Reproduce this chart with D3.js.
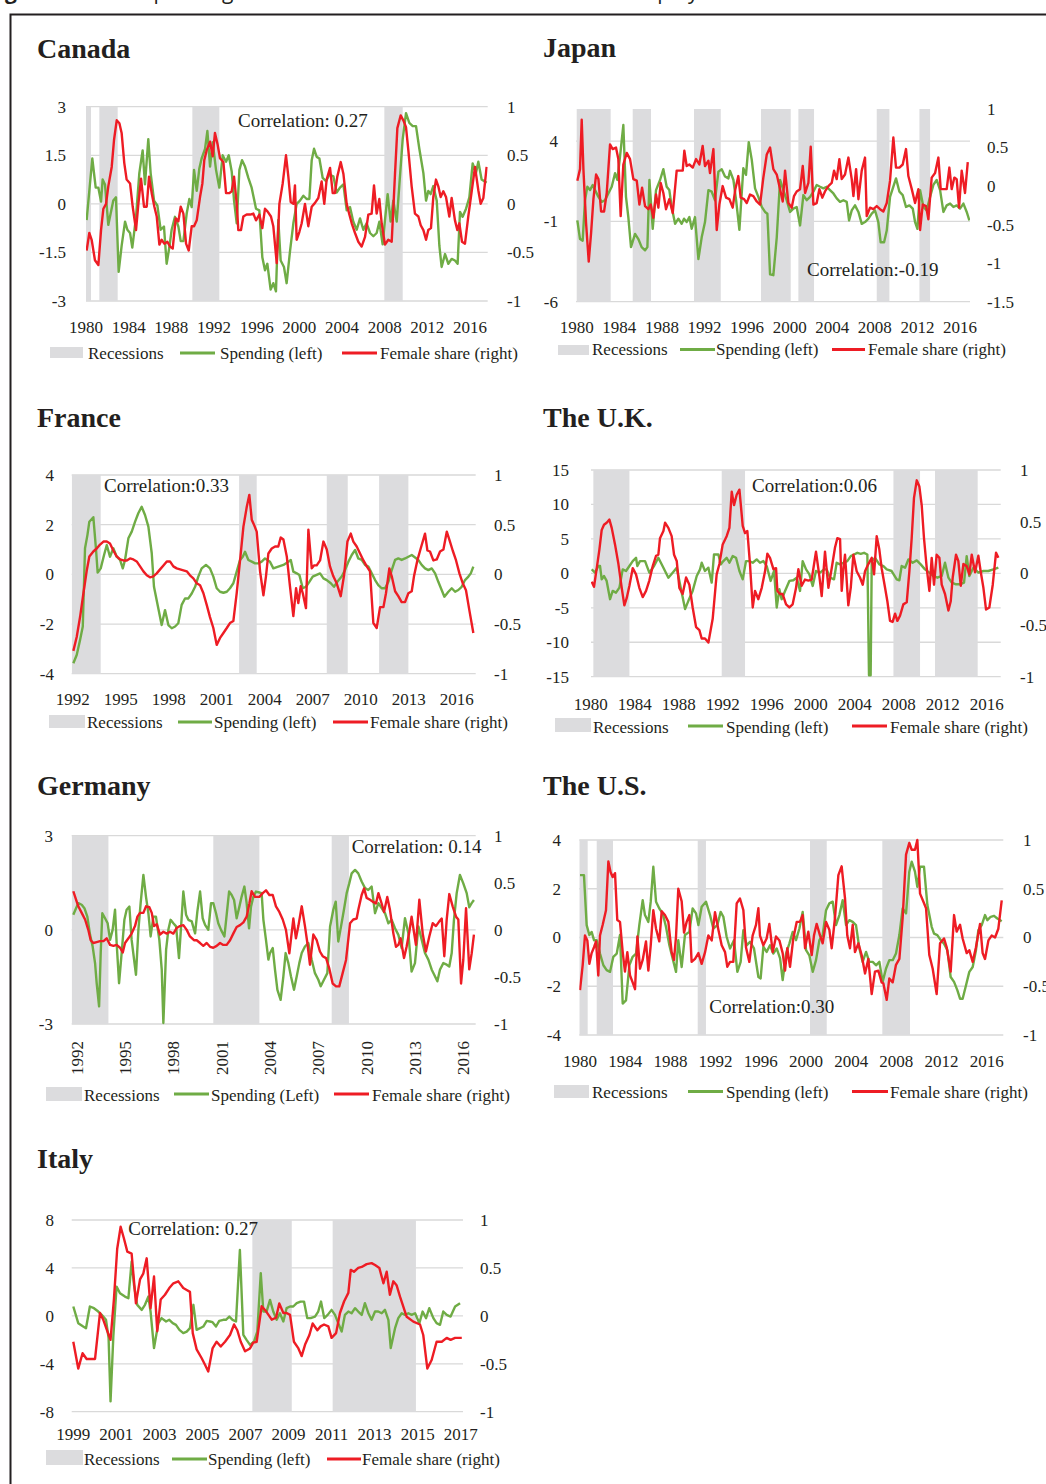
<!DOCTYPE html>
<html>
<head>
<meta charset="utf-8">
<script src="https://cdn.jsdelivr.net/npm/d3@7"></script>
<style>
  body { margin: 0; background: #fff; }
  svg { display: block; }
</style>
</head>
<body>
<svg id="chart" width="1046" height="1484"></svg>
<script>
// ---- tick labels ----
const years1980 = [1980, 1984, 1988, 1992, 1996, 2000, 2004, 2008, 2012, 2016];
const years1992 = [1992, 1995, 1998, 2001, 2004, 2007, 2010, 2013, 2016];
const years1999 = [1999, 2001, 2003, 2005, 2007, 2009, 2011, 2013, 2015, 2017];
const shareTicks = [-1, -0.5, 0, 0.5, 1];
const japanShareTicks = [-1.5, -1, -0.5, 0, 0.5, 1];
const canadaTicks = [-3, -1.5, 0, 1.5, 3];
const japanTicks = [-6, -1, 4];
const franceTicks = [-4, -2, 0, 2, 4];
const ukTicks = [-15, -10, -5, 0, 5, 10, 15];
const germanyTicks = [-3, 0, 3];
const usTicks = [-4, -2, 0, 2, 4];
const italyTicks = [-8, -4, 0, 4, 8];

const countries = ['Canada', 'Japan', 'France', 'The U.K.', 'Germany', 'The U.S.', 'Italy'];
const correlations = ['Correlation: 0.27', 'Correlation:-0.19', 'Correlation:0.33', 'Correlation:0.06',
  'Correlation: 0.14', 'Correlation:0.30', 'Correlation: 0.27'];
const legendLabels = ['Recessions', 'Spending (left)', 'Female share (right)'];

// ---- recessions [start, end] ----
const canadaRecessions = [[1980, 1980.47], [1981.25, 1982.97], [1989.97, 1992.5], [2007.97, 2009.69]];
const japanRecessions = [[1980, 1983.19], [1985.26, 1986.98], [1991.02, 1993.53], [1997.31, 2000.1], [2000.82, 2002.29], [2008.18, 2009.37], [2012.19, 2013.19]];
const franceRecessions = [[1991.94, 1993.75], [2002.4, 2003.5], [2007.88, 2009.19], [2011.15, 2012.98]];
const ukRecessions = [[1980.24, 1983.52], [1991.91, 1994.03], [2007.52, 2009.94], [2011.3, 2015.18]];
const germanyRecessions = [[1991.69, 1993.97], [2000.48, 2003.34], [2007.83, 2008.9]];
const usRecessions = [[1979.94, 1980.68], [1981.48, 1982.92], [1990.42, 1991.15], [2000.36, 2001.84], [2006.76, 2009.21]];
const italyRecessions = [[2007.32, 2009.15], [2011.05, 2014.92]];

// ---- series: [year, value] ----
const canadaSpending = [[1980.06,-0.5],[1980.59,1.4],[1980.91,0.5],[1981.16,0.5],[1981.41,0.07],[1981.56,0.75],[1981.78,0.6],[1982.09,-0.65],[1982.56,0.1],[1982.81,0.2],[1983.06,-2.1],[1983.34,-1.3],[1983.66,-0.55],[1983.88,-0.8],[1984.13,-0.9],[1984.34,-1.35],[1984.69,-0.4],[1985.0,0.95],[1985.31,1.65],[1985.53,0.6],[1985.84,2.0],[1986.06,0.95],[1986.38,0.1],[1986.69,-0.05],[1987.0,-0.8],[1987.31,-0.7],[1987.56,-1.85],[1987.81,-1.35],[1988.03,-0.8],[1988.34,-0.4],[1988.66,-0.7],[1988.88,-1.15],[1989.13,-1.15],[1989.44,-0.3],[1989.69,0.15],[1989.91,-0.1],[1990.13,1.05],[1990.38,0.4],[1990.63,1.1],[1990.84,1.4],[1991.16,1.7],[1991.38,2.25],[1991.63,1.15],[1991.88,1.9],[1992.19,1.05],[1992.5,0.5],[1992.81,1.5],[1993.13,1.3],[1993.38,1.5],[1993.66,1.0],[1993.88,0.1],[1994.13,-0.6],[1994.38,1.05],[1994.63,1.35],[1994.91,1.15],[1995.22,0.8],[1995.53,0.5],[1995.94,-0.15],[1996.25,-0.2],[1996.53,-1.65],[1996.78,-2.05],[1997.0,-1.85],[1997.31,-2.65],[1997.56,-2.45],[1997.81,-2.7],[1998.03,-0.5],[1998.25,-1.75],[1998.56,-1.95],[1998.81,-2.45],[1999.13,-1.45],[1999.44,-0.6],[1999.75,0.0],[2000.06,0.1],[2000.38,0.25],[2000.69,0.15],[2000.94,0.15],[2001.16,1.35],[2001.38,1.7],[2001.63,1.45],[2001.88,1.4],[2002.19,0.8],[2002.5,0.7],[2002.81,0.9],[2003.19,0.85],[2003.5,0.35],[2003.81,0.5],[2004.13,0.6],[2004.44,-0.2],[2004.75,-0.1],[2005.06,-0.55],[2005.38,-0.8],[2005.69,-0.45],[2006.0,-0.8],[2006.31,-0.6],[2006.63,-0.9],[2006.94,-1.0],[2007.25,-0.9],[2007.5,-0.55],[2007.81,-1.25],[2008.03,-0.5],[2008.28,0.3],[2008.56,-0.55],[2008.81,0.1],[2009.13,-0.55],[2009.38,0.6],[2009.69,2.0],[2010.0,2.8],[2010.31,2.5],[2010.63,2.4],[2010.94,2.4],[2011.25,1.7],[2011.63,0.95],[2011.88,0.1],[2012.09,0.4],[2012.31,0.3],[2012.56,0.55],[2012.88,0.1],[2013.13,-1.3],[2013.34,-1.95],[2013.66,-1.55],[2013.97,-1.85],[2014.28,-1.7],[2014.59,-1.75],[2014.84,-1.85],[2015.06,-0.25],[2015.31,-0.4],[2015.63,-0.15],[2015.94,0.2],[2016.25,1.25],[2016.56,0.95],[2016.78,1.3],[2017.09,0.75],[2017.56,0.65]];
const canadaShare = [[1980.06,-0.48],[1980.31,-0.3],[1980.53,-0.37],[1980.84,-0.58],[1981.16,-0.63],[1981.41,-0.27],[1981.63,-0.05],[1981.88,0.0],[1982.09,0.18],[1982.41,0.38],[1982.63,0.66],[1982.88,0.86],[1983.13,0.83],[1983.34,0.73],[1983.59,0.42],[1983.81,0.25],[1984.13,0.21],[1984.38,-0.03],[1984.69,-0.27],[1984.91,0.0],[1985.16,0.26],[1985.44,-0.03],[1985.69,-0.03],[1985.91,0.28],[1986.16,0.11],[1986.41,-0.03],[1986.63,-0.13],[1986.88,-0.42],[1987.09,-0.37],[1987.34,-0.41],[1987.63,-0.39],[1987.88,-0.44],[1988.13,-0.46],[1988.41,-0.15],[1988.66,-0.18],[1988.88,-0.03],[1989.13,-0.1],[1989.38,-0.41],[1989.63,-0.48],[1989.91,-0.23],[1990.13,-0.23],[1990.38,-0.17],[1990.69,0.07],[1990.91,0.21],[1991.09,0.45],[1991.31,0.55],[1991.63,0.64],[1991.88,0.49],[1992.09,0.73],[1992.34,0.61],[1992.56,0.47],[1992.88,0.43],[1993.13,0.11],[1993.44,0.11],[1993.66,0.13],[1993.88,0.28],[1994.13,0.0],[1994.28,-0.27],[1994.53,-0.27],[1994.75,-0.13],[1995.06,-0.11],[1995.38,-0.11],[1995.69,-0.1],[1995.94,-0.17],[1996.25,-0.11],[1996.53,-0.25],[1996.78,-0.05],[1997.03,-0.08],[1997.34,-0.13],[1997.56,-0.23],[1997.88,-0.61],[1998.13,0.0],[1998.44,0.21],[1998.75,0.5],[1998.97,0.28],[1999.19,0.02],[1999.44,0.0],[1999.59,0.19],[1999.75,-0.37],[2000.0,-0.29],[2000.22,-0.2],[2000.53,0.0],[2000.84,-0.23],[2001.16,-0.03],[2001.47,0.01],[2001.78,0.06],[2002.09,0.23],[2002.34,0.0],[2002.56,0.25],[2002.88,0.37],[2003.13,0.11],[2003.34,0.11],[2003.56,0.28],[2003.88,0.43],[2004.13,0.31],[2004.44,0.0],[2004.69,-0.11],[2004.91,-0.2],[2005.22,-0.3],[2005.53,-0.39],[2005.84,-0.44],[2006.16,-0.34],[2006.47,-0.11],[2006.78,-0.1],[2007.0,0.19],[2007.25,-0.1],[2007.5,0.05],[2007.72,-0.2],[2008.03,-0.42],[2008.34,-0.37],[2008.66,-0.39],[2008.97,0.31],[2009.19,0.78],[2009.5,0.91],[2009.75,0.86],[2010.0,0.79],[2010.22,0.55],[2010.53,0.18],[2010.84,-0.1],[2011.16,-0.13],[2011.38,-0.22],[2011.63,-0.27],[2011.88,-0.37],[2012.09,-0.27],[2012.34,-0.25],[2012.56,0.07],[2012.81,0.25],[2013.03,0.18],[2013.25,0.07],[2013.5,0.13],[2013.75,0.07],[2014.06,-0.13],[2014.28,0.06],[2014.59,-0.17],[2014.81,-0.27],[2015.0,-0.2],[2015.25,-0.39],[2015.53,-0.41],[2015.84,-0.13],[2016.16,0.13],[2016.47,0.38],[2016.78,0.14],[2017.0,0.0],[2017.25,0.06],[2017.56,0.38]];

const japanSpending = [[1980.06,-0.94],[1980.31,-2.1],[1980.56,-2.2],[1980.78,0.32],[1981.0,1.16],[1981.25,0.95],[1981.5,1.27],[1981.72,0.95],[1982.04,0.53],[1982.35,0.22],[1982.66,0.32],[1982.97,0.74],[1983.29,1.16],[1983.6,2.0],[1983.82,1.58],[1984.07,3.05],[1984.38,5.0],[1984.63,0.53],[1984.85,-0.73],[1985.1,-2.6],[1985.48,-1.78],[1985.79,-2.1],[1986.1,-2.6],[1986.42,-2.8],[1986.64,-2.6],[1986.83,1.58],[1987.14,-1.46],[1987.45,0.95],[1987.83,1.58],[1988.14,2.25],[1988.45,1.16],[1988.7,0.95],[1988.92,-0.1],[1989.24,-1.15],[1989.55,-0.83],[1989.86,-1.15],[1990.08,-0.83],[1990.33,-1.04],[1990.58,-0.73],[1990.8,-1.46],[1991.11,-0.73],[1991.43,-3.35],[1991.74,-1.99],[1992.05,-1.04],[1992.37,0.95],[1992.68,0.85],[1992.99,0.32],[1993.31,2.1],[1993.62,2.25],[1993.93,1.8],[1994.25,1.68],[1994.4,2.15],[1994.72,1.58],[1994.97,0.32],[1995.28,-1.53],[1995.65,2.32],[1995.9,1.9],[1996.16,3.94],[1996.44,2.85],[1996.75,1.06],[1997.06,0.53],[1997.38,-0.1],[1997.69,-0.41],[1997.91,-0.52],[1998.16,-4.3],[1998.47,-4.35],[1998.79,-1.99],[1999.1,1.58],[1999.41,0.95],[1999.72,0.32],[2000.04,-0.41],[2000.35,-0.2],[2000.66,-0.1],[2000.98,-1.25],[2001.29,0.64],[2001.6,0.32],[2001.92,0.53],[2002.23,0.85],[2002.54,1.27],[2002.86,1.16],[2003.17,1.06],[2003.48,1.16],[2003.79,0.95],[2004.11,0.74],[2004.42,0.43],[2004.73,0.22],[2005.05,0.32],[2005.36,0.22],[2005.58,-0.94],[2005.83,-0.31],[2006.14,0.0],[2006.46,-0.41],[2006.77,-1.15],[2007.08,-1.04],[2007.4,-0.83],[2007.71,-0.52],[2008.02,-0.31],[2008.33,-1.04],[2008.55,-2.3],[2008.87,-2.3],[2009.12,-1.57],[2009.43,0.53],[2009.74,1.16],[2009.99,1.68],[2010.31,0.85],[2010.62,0.64],[2010.93,-0.1],[2011.25,0.0],[2011.56,-0.2],[2011.78,-1.04],[2012.0,-1.46],[2012.25,0.95],[2012.56,-0.1],[2012.87,-0.31],[2013.19,0.53],[2013.5,1.27],[2013.81,1.58],[2014.13,0.95],[2014.44,-0.41],[2014.75,0.0],[2015.07,0.11],[2015.38,-0.1],[2015.69,0.0],[2016.0,-0.2],[2016.32,0.11],[2016.63,-0.41],[2016.88,-0.94]];
const japanShare = [[1980.06,0.07],[1980.31,0.22],[1980.47,0.86],[1980.63,0.22],[1980.88,-0.48],[1981.13,-0.98],[1981.35,-0.61],[1981.57,-0.17],[1981.82,0.15],[1982.04,0.09],[1982.29,-0.33],[1982.57,-0.33],[1982.82,-0.09],[1983.13,0.54],[1983.38,0.48],[1983.69,0.5],[1983.91,0.35],[1984.13,-0.39],[1984.38,0.28],[1984.7,0.43],[1985.01,0.35],[1985.32,0.09],[1985.64,0.07],[1985.89,-0.24],[1986.14,-0.02],[1986.42,-0.26],[1986.73,-0.3],[1986.95,-0.24],[1987.2,-0.41],[1987.45,-0.11],[1987.67,-0.28],[1987.89,0.04],[1988.14,-0.09],[1988.39,-0.3],[1988.7,-0.17],[1989.02,-0.35],[1989.39,0.2],[1989.71,0.2],[1989.96,0.2],[1990.11,0.46],[1990.33,0.26],[1990.58,0.28],[1990.9,0.24],[1991.21,0.35],[1991.52,0.28],[1991.83,0.52],[1992.05,0.26],[1992.37,0.33],[1992.52,0.17],[1992.84,0.48],[1993.15,-0.57],[1993.4,-0.24],[1993.71,0.0],[1994.03,-0.15],[1994.34,-0.17],[1994.65,-0.28],[1994.9,-0.04],[1995.18,0.13],[1995.4,-0.15],[1995.72,-0.17],[1995.97,-0.22],[1996.28,-0.11],[1996.59,-0.13],[1996.91,-0.2],[1997.22,-0.24],[1997.53,0.11],[1997.85,0.41],[1998.16,0.5],[1998.47,0.22],[1998.79,0.15],[1999.1,-0.04],[1999.35,-0.2],[1999.57,0.2],[1999.88,-0.22],[2000.19,-0.28],[2000.41,-0.13],[2000.66,-0.07],[2000.98,-0.04],[2001.23,0.26],[2001.45,-0.09],[2001.76,0.04],[2001.98,0.51],[2002.23,-0.24],[2002.54,-0.22],[2002.79,-0.04],[2003.07,-0.15],[2003.32,-0.07],[2003.64,0.0],[2003.95,0.04],[2004.17,0.2],[2004.42,0.09],[2004.67,0.35],[2004.89,0.09],[2005.2,0.15],[2005.52,0.37],[2005.83,0.09],[2005.99,-0.13],[2006.24,0.22],[2006.46,-0.17],[2006.77,0.2],[2007.08,0.37],[2007.24,-0.39],[2007.55,-0.28],[2007.86,-0.3],[2008.18,-0.26],[2008.49,-0.3],[2008.8,-0.33],[2009.12,-0.22],[2009.43,0.07],[2009.74,0.63],[2009.99,0.24],[2010.31,0.24],[2010.62,0.28],[2010.93,0.48],[2011.15,0.13],[2011.47,-0.04],[2011.78,-0.22],[2012.09,-0.04],[2012.25,-0.57],[2012.5,-0.24],[2012.81,-0.26],[2013.03,-0.43],[2013.34,0.11],[2013.66,0.17],[2013.97,0.37],[2014.19,-0.04],[2014.44,-0.04],[2014.75,-0.04],[2015.0,0.24],[2015.22,-0.04],[2015.47,0.11],[2015.69,0.09],[2015.91,-0.28],[2016.16,0.2],[2016.47,-0.09],[2016.73,0.31]];

const franceSpending = [[1992.04,-3.58],[1992.25,-3.25],[1992.46,-2.64],[1992.63,-2.1],[1992.77,1.05],[1992.92,1.58],[1993.04,2.12],[1993.29,2.3],[1993.46,0.98],[1993.56,0.07],[1993.75,0.24],[1993.96,0.78],[1994.13,1.18],[1994.33,0.71],[1994.54,1.05],[1994.75,0.71],[1994.96,0.58],[1995.13,0.24],[1995.27,0.58],[1995.48,1.45],[1995.69,1.72],[1995.9,2.12],[1996.1,2.46],[1996.31,2.72],[1996.52,2.39],[1996.73,1.92],[1996.94,0.85],[1997.08,-0.5],[1997.29,-1.17],[1997.56,-2.04],[1997.77,-1.44],[1997.98,-2.04],[1998.19,-2.17],[1998.4,-2.1],[1998.6,-1.97],[1998.81,-1.23],[1999.02,-0.97],[1999.23,-0.97],[1999.44,-0.77],[1999.65,-0.5],[1999.85,-0.09],[2000.06,0.24],[2000.33,0.38],[2000.58,0.24],[2000.79,-0.09],[2001.0,-0.56],[2001.21,-0.7],[2001.42,-0.74],[2001.63,-0.7],[2001.83,-0.56],[2002.04,-0.36],[2002.25,0.11],[2002.46,0.58],[2002.63,0.71],[2002.77,0.91],[2002.98,0.58],[2003.19,0.51],[2003.4,0.44],[2003.6,0.44],[2003.81,0.51],[2004.02,0.64],[2004.17,0.58],[2004.33,0.51],[2004.54,0.24],[2004.85,0.31],[2005.17,0.38],[2005.48,0.51],[2005.63,0.58],[2005.79,0.11],[2006.0,0.04],[2006.17,-0.03],[2006.38,-0.56],[2006.58,-0.5],[2006.79,-0.3],[2007.0,-0.09],[2007.21,-0.03],[2007.46,0.04],[2007.67,-0.16],[2007.88,-0.23],[2008.13,-0.36],[2008.33,-0.5],[2008.54,-0.3],[2008.81,-0.09],[2009.02,0.17],[2009.23,0.51],[2009.44,0.78],[2009.65,0.98],[2009.85,0.64],[2010.06,0.58],[2010.27,0.38],[2010.48,0.31],[2010.69,0.04],[2010.9,-0.23],[2011.1,-0.43],[2011.31,-0.56],[2011.52,-0.56],[2011.73,-0.3],[2011.94,0.17],[2012.15,0.58],[2012.35,0.64],[2012.56,0.58],[2012.77,0.64],[2012.98,0.71],[2013.19,0.78],[2013.4,0.68],[2013.6,0.58],[2013.81,0.38],[2014.02,0.24],[2014.23,0.17],[2014.44,0.24],[2014.65,0.04],[2014.85,-0.3],[2015.06,-0.63],[2015.23,-0.9],[2015.48,-0.7],[2015.69,-0.56],[2015.9,-0.7],[2016.1,-0.63],[2016.31,-0.5],[2016.52,-0.23],[2016.73,-0.09],[2016.88,0.04],[2017.04,0.31]];
const franceShare = [[1992.04,-0.77],[1992.25,-0.63],[1992.46,-0.43],[1992.67,-0.19],[1992.88,0.04],[1993.04,0.18],[1993.29,0.23],[1993.5,0.26],[1993.71,0.3],[1993.92,0.33],[1994.13,0.33],[1994.33,0.31],[1994.54,0.24],[1994.75,0.18],[1994.96,0.15],[1995.17,0.14],[1995.38,0.14],[1995.58,0.16],[1995.79,0.15],[1996.0,0.13],[1996.21,0.08],[1996.42,0.03],[1996.63,-0.01],[1996.83,-0.03],[1997.04,-0.02],[1997.25,0.01],[1997.46,0.05],[1997.67,0.09],[1997.88,0.13],[1998.08,0.13],[1998.29,0.08],[1998.5,0.06],[1998.71,0.05],[1998.92,0.04],[1999.13,0.03],[1999.33,-0.01],[1999.54,-0.04],[1999.75,-0.09],[1999.96,-0.11],[2000.17,-0.19],[2000.38,-0.31],[2000.58,-0.43],[2000.79,-0.54],[2001.0,-0.71],[2001.21,-0.64],[2001.42,-0.59],[2001.63,-0.54],[2001.83,-0.49],[2002.04,-0.47],[2002.25,-0.19],[2002.46,0.14],[2002.67,0.48],[2002.88,0.68],[2003.04,0.8],[2003.19,0.55],[2003.33,0.5],[2003.5,0.43],[2003.71,0.03],[2003.92,-0.21],[2004.08,-0.02],[2004.23,0.21],[2004.44,0.26],[2004.65,0.28],[2004.85,0.28],[2005.0,0.37],[2005.17,0.35],[2005.38,0.18],[2005.58,-0.12],[2005.79,-0.42],[2005.96,-0.14],[2006.1,-0.29],[2006.25,-0.12],[2006.38,-0.19],[2006.58,-0.34],[2006.73,0.45],[2006.94,0.06],[2007.08,0.09],[2007.25,0.09],[2007.46,0.14],[2007.67,0.33],[2007.88,0.25],[2008.08,0.08],[2008.29,-0.02],[2008.5,-0.09],[2008.75,-0.22],[2008.96,-0.01],[2009.17,0.33],[2009.38,0.41],[2009.54,0.33],[2009.75,0.28],[2009.96,0.21],[2010.17,0.14],[2010.38,0.08],[2010.58,0.03],[2010.79,-0.49],[2011.0,-0.54],[2011.21,-0.33],[2011.42,-0.33],[2011.58,-0.19],[2011.79,0.06],[2011.94,-0.02],[2012.15,-0.17],[2012.35,-0.22],[2012.56,-0.28],[2012.77,-0.28],[2012.98,-0.19],[2013.19,-0.17],[2013.33,-0.02],[2013.54,0.14],[2013.75,0.26],[2014.02,0.41],[2014.17,0.24],[2014.33,0.23],[2014.54,0.14],[2014.75,0.15],[2014.96,0.23],[2015.17,0.25],[2015.38,0.43],[2015.54,0.35],[2015.75,0.24],[2015.96,0.14],[2016.17,0.01],[2016.38,-0.09],[2016.58,-0.16],[2016.79,-0.36],[2017.04,-0.59]];

const ukSpending = [[1980.09,0.58],[1980.39,0.1],[1980.7,1.06],[1980.85,1.06],[1981.0,-0.87],[1981.21,-0.38],[1981.45,-1.1],[1981.76,-3.75],[1982.0,-2.55],[1982.3,-2.8],[1982.61,-2.07],[1982.91,0.58],[1983.21,0.34],[1983.52,1.06],[1983.82,1.78],[1984.12,2.26],[1984.24,1.06],[1984.48,1.78],[1984.94,1.78],[1985.33,0.1],[1985.76,1.06],[1986.15,2.26],[1986.61,0.82],[1987.06,-0.63],[1987.45,0.1],[1987.82,0.82],[1988.12,-1.59],[1988.58,-5.19],[1988.88,-3.99],[1989.27,-2.55],[1989.64,-0.38],[1989.94,0.58],[1990.09,1.54],[1990.39,0.34],[1990.7,0.82],[1991.0,-1.35],[1991.21,2.74],[1991.61,2.74],[1991.82,1.3],[1992.06,1.78],[1992.36,2.26],[1992.61,1.54],[1992.91,2.5],[1993.21,2.26],[1993.52,0.34],[1993.82,-0.87],[1994.12,1.78],[1994.42,1.78],[1994.73,1.54],[1995.09,2.02],[1995.39,1.54],[1995.7,1.78],[1996.0,1.06],[1996.36,-1.1],[1996.67,0.34],[1996.91,-4.95],[1997.15,-2.31],[1997.36,-3.75],[1997.67,-2.55],[1998.06,-1.1],[1998.42,-1.01],[1998.73,-0.63],[1999.03,-2.55],[1999.27,1.78],[1999.58,0.58],[1999.88,-0.14],[2000.18,-1.83],[2000.48,0.34],[2000.85,0.1],[2001.21,0.58],[2001.45,0.58],[2001.76,-0.63],[2002.12,-0.87],[2002.36,1.54],[2002.67,1.3],[2002.97,1.54],[2003.33,1.78],[2003.64,2.5],[2003.94,2.74],[2004.24,2.98],[2004.55,2.84],[2004.85,2.98],[2005.15,2.74],[2005.3,-14.8],[2005.45,-14.8],[2005.55,1.78],[2005.85,2.26],[2006.24,1.3],[2006.61,1.06],[2006.91,0.58],[2007.36,0.34],[2007.82,-0.87],[2008.06,-1.01],[2008.27,1.06],[2008.58,0.82],[2008.88,2.02],[2009.27,1.54],[2009.64,1.88],[2010.0,1.3],[2010.39,0.58],[2010.79,0.1],[2011.15,-0.38],[2011.52,-0.63],[2011.91,-0.38],[2012.21,1.54],[2012.52,-0.63],[2012.82,-1.35],[2013.21,-1.59],[2013.58,-1.59],[2013.94,-1.35],[2014.18,2.5],[2014.42,-0.38],[2014.79,0.82],[2015.24,0.1],[2015.7,0.34],[2016.15,0.34],[2016.61,0.58],[2017.06,0.82]];
const ukShare = [[1980.09,-0.08],[1980.3,-0.13],[1980.55,0.05],[1980.79,0.23],[1981.0,0.42],[1981.21,0.47],[1981.45,0.49],[1981.7,0.52],[1981.91,0.44],[1982.21,0.28],[1982.52,0.09],[1982.82,-0.14],[1983.06,-0.31],[1983.27,-0.24],[1983.52,-0.12],[1983.82,0.05],[1984.12,-0.01],[1984.42,-0.14],[1984.73,-0.23],[1985.03,-0.17],[1985.33,-0.07],[1985.64,0.07],[1985.94,0.17],[1986.15,0.18],[1986.3,0.34],[1986.61,0.41],[1986.76,0.49],[1987.06,0.44],[1987.36,0.36],[1987.58,0.18],[1987.82,0.12],[1988.06,-0.14],[1988.36,-0.2],[1988.67,-0.04],[1988.97,-0.11],[1989.27,-0.33],[1989.58,-0.52],[1989.88,-0.55],[1990.09,-0.63],[1990.39,-0.63],[1990.7,-0.67],[1991.09,-0.44],[1991.45,-0.01],[1991.7,0.09],[1992.0,0.28],[1992.36,0.36],[1992.61,0.44],[1992.82,0.79],[1993.03,0.66],[1993.27,0.76],[1993.52,0.81],[1993.82,0.46],[1994.03,0.39],[1994.24,0.41],[1994.48,0.09],[1994.73,-0.33],[1994.94,-0.17],[1995.24,-0.25],[1995.55,-0.14],[1995.85,0.02],[1996.06,0.19],[1996.3,0.15],[1996.61,0.04],[1996.85,0.05],[1996.97,-0.17],[1997.21,-0.2],[1997.45,-0.2],[1997.76,-0.3],[1998.06,-0.33],[1998.36,-0.3],[1998.67,-0.14],[1998.88,0.04],[1999.18,-0.12],[1999.48,-0.06],[1999.79,-0.07],[2000.09,-0.06],[2000.48,0.21],[2000.79,-0.03],[2001.0,-0.22],[2001.3,0.21],[2001.61,-0.14],[2001.91,0.05],[2002.21,0.25],[2002.42,0.34],[2002.67,0.33],[2002.82,-0.17],[2002.97,0.04],[2003.12,0.18],[2003.42,-0.31],[2003.64,-0.14],[2003.88,0.18],[2004.18,0.02],[2004.48,-0.04],[2004.73,-0.11],[2004.94,0.02],[2005.24,0.09],[2005.55,0.15],[2005.76,-0.01],[2006.0,0.36],[2006.24,0.23],[2006.45,0.05],[2006.76,-0.14],[2006.97,-0.27],[2007.21,-0.46],[2007.45,-0.47],[2007.67,-0.39],[2007.88,-0.46],[2008.12,-0.41],[2008.42,-0.3],[2008.73,-0.28],[2008.97,0.02],[2009.18,0.34],[2009.39,0.73],[2009.64,0.9],[2009.88,0.84],[2010.09,0.66],[2010.3,0.34],[2010.55,0.05],[2010.79,-0.17],[2011.0,0.15],[2011.21,-0.11],[2011.45,0.18],[2011.7,0.15],[2011.91,-0.11],[2012.21,-0.2],[2012.52,-0.36],[2012.73,-0.27],[2012.91,-0.04],[2013.21,0.18],[2013.42,0.12],[2013.64,-0.12],[2013.88,0.09],[2014.18,0.07],[2014.42,-0.01],[2014.64,0.18],[2014.94,0.01],[2015.24,0.17],[2015.45,0.02],[2015.7,-0.14],[2015.94,-0.35],[2016.24,-0.33],[2016.55,-0.11],[2016.85,0.2],[2017.06,0.15]];

const germanySpending = [[1991.79,0.48],[1991.96,0.69],[1992.1,0.85],[1992.31,0.8],[1992.48,0.69],[1992.66,0.42],[1992.83,-0.16],[1992.99,-0.53],[1993.14,-1.06],[1993.24,-1.7],[1993.39,-2.44],[1993.49,-0.74],[1993.59,0.53],[1993.76,0.37],[1993.92,0.21],[1994.07,-0.32],[1994.23,0.0],[1994.38,0.64],[1994.48,-0.42],[1994.63,-1.7],[1994.79,-0.74],[1994.96,0.32],[1995.1,0.64],[1995.27,0.74],[1995.41,-0.32],[1995.68,-1.43],[1995.83,0.0],[1995.97,0.85],[1996.14,1.75],[1996.3,1.06],[1996.45,0.53],[1996.59,-0.21],[1996.76,0.42],[1996.92,0.42],[1997.13,-0.32],[1997.28,-1.27],[1997.38,-2.97],[1997.55,-0.64],[1997.69,0.0],[1997.83,0.32],[1998.0,0.21],[1998.17,0.11],[1998.35,-0.9],[1998.46,-0.05],[1998.62,1.22],[1998.79,0.48],[1998.93,0.32],[1999.14,0.27],[1999.35,-0.11],[1999.49,0.58],[1999.66,1.22],[1999.82,0.37],[1999.97,0.16],[2000.17,0.0],[2000.34,0.85],[2000.48,0.85],[2000.65,0.53],[2000.79,0.21],[2000.96,0.0],[2001.17,-0.21],[2001.31,0.48],[2001.46,1.22],[2001.62,1.11],[2001.77,0.95],[2001.93,0.37],[2002.1,0.74],[2002.24,1.06],[2002.41,1.38],[2002.55,0.85],[2002.7,0.05],[2002.82,0.74],[2002.97,1.06],[2003.13,1.22],[2003.34,1.19],[2003.48,1.17],[2003.59,0.32],[2003.75,-0.32],[2003.9,-0.95],[2004.0,-0.74],[2004.17,-0.58],[2004.31,-1.27],[2004.46,-1.91],[2004.66,-2.23],[2004.83,-1.48],[2004.97,-0.74],[2005.14,-1.06],[2005.3,-1.48],[2005.49,-1.91],[2005.66,-1.48],[2005.82,-1.06],[2005.97,-0.74],[2006.17,-0.53],[2006.38,-0.42],[2006.59,-0.95],[2006.79,-1.38],[2007.0,-1.59],[2007.15,-1.8],[2007.35,-1.59],[2007.56,-1.38],[2007.73,0.11],[2007.93,0.64],[2008.08,0.9],[2008.24,-0.37],[2008.41,0.11],[2008.59,0.64],[2008.76,1.17],[2008.92,1.48],[2009.07,1.8],[2009.28,1.91],[2009.48,1.8],[2009.69,1.54],[2009.9,1.33],[2010.1,1.27],[2010.31,1.38],[2010.52,0.53],[2010.73,0.85],[2010.93,0.69],[2011.14,0.53],[2011.35,0.21],[2011.55,0.32],[2011.76,0.05],[2011.97,-0.16],[2012.17,-0.58],[2012.38,0.37],[2012.59,-0.11],[2012.79,-1.33],[2013.0,-1.06],[2013.21,0.11],[2013.42,-0.32],[2013.62,-0.74],[2013.83,-0.95],[2014.04,-1.27],[2014.24,-1.48],[2014.39,-1.64],[2014.55,-1.27],[2014.76,-1.06],[2014.97,-1.11],[2015.13,-1.17],[2015.28,-0.74],[2015.42,0.32],[2015.59,1.17],[2015.79,1.75],[2016.0,1.48],[2016.21,1.17],[2016.37,0.72],[2016.52,0.85],[2016.66,0.95]];
const germanyShare = [[1991.79,0.41],[1991.96,0.32],[1992.1,0.25],[1992.31,0.18],[1992.52,0.11],[1992.72,0.0],[1992.87,-0.11],[1993.03,-0.14],[1993.24,-0.13],[1993.45,-0.12],[1993.66,-0.12],[1993.86,-0.09],[1994.07,-0.16],[1994.28,-0.17],[1994.48,-0.16],[1994.69,-0.19],[1994.86,-0.24],[1995.0,-0.14],[1995.21,-0.09],[1995.41,-0.04],[1995.62,0.04],[1995.77,0.14],[1995.93,0.18],[1996.14,0.18],[1996.3,0.25],[1996.51,0.24],[1996.66,0.18],[1996.8,0.04],[1996.97,0.06],[1997.17,-0.05],[1997.38,-0.02],[1997.59,-0.04],[1997.79,-0.02],[1998.0,-0.04],[1998.21,0.02],[1998.41,0.04],[1998.62,0.05],[1998.83,0.0],[1999.03,-0.07],[1999.28,-0.11],[1999.45,-0.11],[1999.66,-0.14],[1999.86,-0.17],[2000.07,-0.14],[2000.28,-0.18],[2000.48,-0.19],[2000.69,-0.17],[2000.9,-0.14],[2001.1,-0.16],[2001.31,-0.16],[2001.52,-0.11],[2001.72,-0.04],[2001.93,0.03],[2002.14,0.05],[2002.35,0.08],[2002.55,0.14],[2002.72,0.28],[2002.86,0.41],[2003.07,0.35],[2003.34,0.35],[2003.55,0.39],[2003.75,0.42],[2003.96,0.37],[2004.17,0.37],[2004.37,0.25],[2004.58,0.19],[2004.79,0.11],[2004.99,0.0],[2005.2,-0.25],[2005.45,0.12],[2005.61,-0.09],[2005.76,0.04],[2005.97,0.25],[2006.17,0.04],[2006.32,-0.14],[2006.48,-0.37],[2006.69,-0.05],[2006.9,-0.11],[2007.1,-0.23],[2007.27,-0.28],[2007.48,-0.3],[2007.68,-0.41],[2007.89,-0.57],[2008.1,-0.6],[2008.3,-0.6],[2008.51,-0.46],[2008.72,-0.32],[2008.97,0.07],[2009.17,0.11],[2009.38,0.12],[2009.48,0.21],[2009.69,0.37],[2009.84,0.44],[2010.0,0.34],[2010.21,0.32],[2010.37,0.3],[2010.58,0.28],[2010.73,0.39],[2010.93,0.28],[2011.08,0.19],[2011.28,0.35],[2011.45,0.21],[2011.66,-0.04],[2011.82,-0.18],[2011.97,-0.16],[2012.11,-0.09],[2012.32,-0.3],[2012.48,-0.18],[2012.65,-0.02],[2012.79,0.14],[2013.06,-0.16],[2013.27,0.32],[2013.48,-0.04],[2013.68,-0.23],[2013.89,-0.07],[2014.1,0.07],[2014.3,0.04],[2014.51,0.09],[2014.66,0.12],[2014.82,-0.28],[2014.97,0.11],[2015.13,0.38],[2015.34,0.25],[2015.55,0.14],[2015.69,0.11],[2015.86,-0.57],[2016.0,-0.32],[2016.17,0.23],[2016.37,-0.42],[2016.52,-0.25],[2016.66,-0.05]];

const usSpending = [[1980.0,2.56],[1980.35,2.56],[1980.59,0.51],[1980.83,0.1],[1981.03,0.23],[1981.24,-0.11],[1981.48,-0.11],[1981.77,-0.66],[1982.07,-1.14],[1982.36,-1.34],[1982.66,-1.41],[1982.95,-0.79],[1983.25,-0.66],[1983.54,0.1],[1983.78,-2.71],[1984.07,-2.58],[1984.37,-1.14],[1984.66,-0.79],[1984.96,-0.66],[1985.25,0.51],[1985.55,1.53],[1985.75,0.92],[1986.05,0.64],[1986.26,1.47],[1986.49,2.9],[1986.73,1.47],[1987.02,1.19],[1987.32,0.99],[1987.61,0.44],[1987.91,-0.32],[1988.2,-0.86],[1988.5,-1.41],[1988.7,-0.11],[1989.0,-1.21],[1989.29,0.1],[1989.68,0.23],[1989.97,1.19],[1990.27,0.99],[1990.48,0.51],[1990.77,1.26],[1991.15,1.47],[1991.51,0.92],[1991.8,0.37],[1992.16,0.51],[1992.45,1.05],[1992.69,0.85],[1992.98,0.03],[1993.28,-0.45],[1993.63,-0.11],[1993.93,-1.41],[1994.22,-1.0],[1994.46,0.3],[1994.75,-0.32],[1995.05,-0.18],[1995.4,-0.45],[1995.79,-1.62],[1995.99,-1.68],[1996.23,-0.38],[1996.52,-0.59],[1996.82,-0.32],[1997.11,-0.66],[1997.41,-0.45],[1997.71,-0.86],[1997.94,-1.75],[1998.24,-0.66],[1998.53,-0.25],[1998.83,0.23],[1999.12,-0.11],[1999.42,0.37],[1999.71,1.05],[2000.01,-0.52],[2000.3,-0.73],[2000.6,-1.41],[2000.89,-0.93],[2001.19,-0.11],[2001.48,0.1],[2001.78,1.12],[2002.07,1.4],[2002.37,1.47],[2002.66,0.51],[2002.96,0.92],[2003.25,1.53],[2003.55,0.51],[2003.84,0.71],[2004.14,0.64],[2004.43,0.51],[2004.73,-0.45],[2005.02,-1.0],[2005.32,-0.59],[2005.61,-1.0],[2005.91,-1.0],[2006.2,-1.14],[2006.5,-1.0],[2006.79,-1.82],[2007.09,-1.27],[2007.38,-0.93],[2007.68,-0.93],[2007.97,-0.66],[2008.27,0.1],[2008.56,1.19],[2008.86,0.99],[2009.15,2.7],[2009.36,3.11],[2009.65,2.7],[2009.86,2.08],[2010.1,2.9],[2010.45,2.9],[2010.75,1.33],[2011.13,0.44],[2011.34,0.16],[2011.63,0.1],[2011.93,-0.11],[2012.22,-0.25],[2012.52,-0.52],[2012.81,-1.62],[2013.11,-1.82],[2013.4,-2.16],[2013.64,-2.51],[2013.87,-2.51],[2014.17,-1.96],[2014.46,-1.41],[2014.76,-1.21],[2015.05,-0.52],[2015.26,0.3],[2015.56,0.51],[2015.85,0.92],[2016.06,0.71],[2016.35,0.85],[2016.65,0.89],[2016.94,0.78],[2017.33,0.67]];
const usShare = [[1980.0,-0.54],[1980.24,-0.28],[1980.44,0.02],[1980.65,-0.03],[1980.83,-0.27],[1981.03,-0.16],[1981.24,-0.1],[1981.42,-0.04],[1981.62,-0.39],[1981.77,0.02],[1982.01,0.13],[1982.3,0.28],[1982.51,0.78],[1982.71,0.67],[1982.89,0.62],[1983.1,0.66],[1983.3,0.18],[1983.54,0.16],[1983.78,-0.15],[1983.98,-0.35],[1984.19,-0.15],[1984.43,-0.39],[1984.66,-0.46],[1984.87,-0.53],[1985.08,0.01],[1985.31,-0.32],[1985.55,-0.23],[1985.84,-0.04],[1986.05,-0.34],[1986.26,-0.08],[1986.49,0.28],[1986.73,0.09],[1987.02,-0.04],[1987.23,0.27],[1987.52,0.23],[1987.82,0.16],[1988.11,-0.15],[1988.32,-0.23],[1988.5,0.01],[1988.7,0.5],[1989.0,0.37],[1989.21,0.05],[1989.44,0.16],[1989.68,0.23],[1989.88,-0.25],[1990.18,-0.22],[1990.48,-0.16],[1990.77,-0.27],[1991.07,-0.15],[1991.36,0.02],[1991.66,-0.03],[1991.95,0.26],[1992.25,0.08],[1992.54,-0.08],[1992.84,-0.15],[1993.04,-0.3],[1993.28,-0.25],[1993.57,-0.25],[1993.87,0.35],[1994.16,0.4],[1994.46,0.28],[1994.69,-0.1],[1994.99,-0.25],[1995.28,0.02],[1995.58,0.13],[1995.79,0.3],[1995.93,0.02],[1996.23,-0.08],[1996.52,-0.01],[1996.76,0.14],[1997.06,-0.15],[1997.35,0.01],[1997.65,-0.03],[1997.94,-0.16],[1998.15,-0.34],[1998.35,-0.11],[1998.59,-0.3],[1998.88,-0.01],[1999.18,0.16],[1999.47,0.16],[1999.71,0.23],[1999.92,-0.11],[2000.21,0.06],[2000.51,-0.18],[2000.71,0.02],[2000.95,0.14],[2001.25,0.02],[2001.48,-0.06],[2001.78,0.16],[2002.07,0.08],[2002.28,-0.11],[2002.57,0.2],[2002.87,0.64],[2003.16,0.73],[2003.46,0.4],[2003.66,0.02],[2003.9,-0.11],[2004.14,0.13],[2004.34,-0.15],[2004.64,-0.06],[2004.93,-0.18],[2005.23,-0.37],[2005.52,-0.22],[2005.82,-0.58],[2006.11,-0.35],[2006.41,-0.34],[2006.7,-0.46],[2006.85,-0.47],[2007.15,-0.64],[2007.38,-0.42],[2007.68,-0.46],[2007.97,-0.28],[2008.27,-0.22],[2008.56,0.2],[2008.86,0.85],[2009.15,0.97],[2009.36,0.9],[2009.65,0.9],[2009.86,1.0],[2010.1,0.45],[2010.39,0.37],[2010.63,0.3],[2010.92,-0.18],[2011.22,-0.32],[2011.57,-0.58],[2011.87,-0.06],[2012.22,-0.01],[2012.46,-0.1],[2012.81,-0.35],[2013.11,0.23],[2013.34,0.06],[2013.64,0.13],[2013.87,-0.01],[2014.23,-0.16],[2014.46,-0.13],[2014.76,-0.25],[2015.05,-0.1],[2015.41,0.14],[2015.64,-0.16],[2015.85,-0.22],[2016.15,-0.03],[2016.44,0.02],[2016.74,0.0],[2017.03,0.09],[2017.33,0.38]];

const italySpending = [[1999.0,0.78],[1999.23,-0.61],[1999.46,-0.89],[1999.59,-1.03],[1999.77,0.78],[1999.96,0.64],[2000.16,0.36],[2000.32,0.08],[2000.52,-0.33],[2000.64,-1.86],[2000.73,-7.14],[2000.86,-1.72],[2001.01,2.44],[2001.17,1.89],[2001.4,1.61],[2001.56,1.47],[2001.71,4.53],[2001.82,2.58],[2001.97,0.92],[2002.18,0.5],[2002.33,0.92],[2002.49,1.61],[2002.59,0.36],[2002.75,-2.69],[2002.95,-0.61],[2003.1,-0.19],[2003.31,-0.47],[2003.46,-0.33],[2003.62,-0.61],[2003.77,-0.75],[2003.93,-1.17],[2004.11,-1.44],[2004.27,-1.31],[2004.42,-1.03],[2004.58,0.92],[2004.73,-1.17],[2004.89,-1.03],[2005.04,-0.89],[2005.2,-0.42],[2005.35,-0.47],[2005.47,-0.53],[2005.63,-0.89],[2005.78,-0.42],[2005.97,-0.33],[2006.09,-0.33],[2006.25,-0.06],[2006.4,-0.33],[2006.56,-0.47],[2006.74,5.5],[2006.9,-1.58],[2007.05,-2.0],[2007.21,-2.42],[2007.4,-2.14],[2007.55,-1.31],[2007.71,3.56],[2007.83,0.36],[2007.98,0.36],[2008.14,1.33],[2008.29,0.36],[2008.45,-0.33],[2008.6,0.22],[2008.76,-0.47],[2008.91,0.64],[2009.07,0.78],[2009.22,0.78],[2009.38,1.06],[2009.56,1.19],[2009.72,1.19],[2009.87,-0.19],[2010.03,-0.19],[2010.23,-0.06],[2010.38,0.36],[2010.51,1.19],[2010.66,-0.19],[2010.82,0.08],[2011.0,0.5],[2011.16,0.08],[2011.31,-0.61],[2011.47,-1.31],[2011.62,0.08],[2011.78,0.36],[2011.93,0.22],[2012.09,0.64],[2012.24,0.36],[2012.4,0.08],[2012.55,1.06],[2012.71,0.22],[2012.86,-0.33],[2013.02,0.36],[2013.17,0.36],[2013.33,0.22],[2013.48,0.5],[2013.64,-0.33],[2013.75,-2.69],[2013.95,-1.03],[2014.1,-0.19],[2014.26,0.22],[2014.41,0.08],[2014.57,0.22],[2014.72,0.08],[2014.88,0.22],[2015.08,-0.61],[2015.23,0.36],[2015.39,-0.19],[2015.54,0.64],[2015.73,-0.19],[2015.88,-0.61],[2016.04,-0.75],[2016.19,0.36],[2016.35,0.08],[2016.53,-0.06],[2016.74,0.78],[2016.97,1.06]];
const italyShare = [[1999.0,-0.27],[1999.23,-0.55],[1999.43,-0.39],[1999.62,-0.45],[1999.81,-0.45],[2000.01,-0.45],[2000.24,0.03],[2000.39,-0.04],[2000.58,-0.16],[2000.73,-0.25],[2000.89,0.18],[2001.04,0.7],[2001.2,0.93],[2001.35,0.81],[2001.51,0.67],[2001.71,0.65],[2001.91,0.13],[2002.1,0.38],[2002.25,0.44],[2002.41,0.6],[2002.59,0.08],[2002.75,0.41],[2002.9,-0.16],[2003.06,0.17],[2003.26,0.22],[2003.46,0.29],[2003.65,0.34],[2003.88,0.36],[2004.11,0.29],[2004.27,0.27],[2004.42,0.25],[2004.55,-0.18],[2004.73,-0.35],[2004.96,-0.44],[2005.12,-0.51],[2005.27,-0.58],[2005.47,-0.34],[2005.66,-0.27],[2005.85,-0.32],[2006.05,-0.27],[2006.28,-0.2],[2006.47,-0.09],[2006.62,-0.15],[2006.78,-0.27],[2006.98,-0.37],[2007.21,-0.34],[2007.36,-0.28],[2007.52,-0.27],[2007.75,0.1],[2007.95,0.05],[2008.22,-0.04],[2008.42,-0.02],[2008.57,0.13],[2008.76,0.03],[2008.91,0.03],[2009.07,0.01],[2009.25,-0.27],[2009.46,-0.34],[2009.61,-0.42],[2009.77,-0.3],[2009.97,-0.2],[2010.12,-0.08],[2010.34,-0.15],[2010.49,-0.11],[2010.65,-0.09],[2010.85,-0.11],[2011.0,-0.23],[2011.21,-0.18],[2011.39,0.03],[2011.58,0.15],[2011.78,0.24],[2011.89,0.48],[2012.04,0.46],[2012.24,0.5],[2012.4,0.51],[2012.63,0.54],[2012.86,0.55],[2013.02,0.53],[2013.22,0.5],[2013.41,0.34],[2013.56,0.46],[2013.71,0.22],[2013.87,0.36],[2014.02,0.32],[2014.18,0.2],[2014.49,-0.01],[2014.8,-0.06],[2015.11,-0.09],[2015.26,-0.2],[2015.45,-0.55],[2015.65,-0.46],[2015.88,-0.27],[2016.12,-0.27],[2016.35,-0.23],[2016.53,-0.25],[2016.74,-0.23],[2017.05,-0.23]];

// ---- styling ----
const GREEN = '#6fac45';
const RED = '#ee1c24';
const RECESSION = '#dcdcde';
const GRID = '#d9d9d9';
const INK = '#231f20';
const SERIF = "'Liberation Serif', 'Times New Roman', serif";

// panel layout: box = [left, right, top, bottom]
const panels = [
  { spend: canadaSpending, share: canadaShare, rec: canadaRecessions, title: [37, 58],
    box: [86, 487.7, 106.7, 301], xRef: [1980, 2016], xPix: [86, 470], xTicks: years1980,
    left: [-3, 3], leftTicks: canadaTicks, right: [-1, 1], rightTicks: shareTicks,
    leftX: 66, rightX: 507, xLabelY: 333, corr: [238, 127],
    legend: { y: 353, base: 359, box: [50, 83, 347, 358], rec: 88, g: [180, 215, 220], r: [342, 377, 380] } },
  { spend: japanSpending, share: japanShare, rec: japanRecessions, title: [543, 57],
    box: [576, 970, 109, 301.7], xRef: [1980, 2016], xPix: [576.7, 960], xTicks: years1980,
    left: [-6, 6], leftTicks: japanTicks, right: [-1.5, 1], rightTicks: japanShareTicks,
    leftX: 558, rightX: 987, xLabelY: 333, corr: [807, 276],
    legend: { y: 349.5, base: 355, box: [558, 589, 345, 355], rec: 592, g: [680, 715, 716], r: [832, 865, 868] } },
  { spend: franceSpending, share: franceShare, rec: franceRecessions, title: [37, 427],
    box: [71.7, 475.7, 475, 673.7], xRef: [1992, 2016], xPix: [72.7, 456.7], xTicks: years1992,
    left: [-4, 4], leftTicks: franceTicks, right: [-1, 1], rightTicks: shareTicks,
    leftX: 54, rightX: 494, xLabelY: 705, corr: [104, 492],
    legend: { y: 722, base: 728, box: [49, 85, 715, 728], rec: 87, g: [178, 212, 214], r: [333, 368, 370] } },
  { spend: ukSpending, share: ukShare, rec: ukRecessions, title: [543, 427],
    box: [591, 1000.7, 470, 676.7], xRef: [1980, 2016], xPix: [590.7, 986.7], xTicks: years1980,
    left: [-15, 15], leftTicks: ukTicks, right: [-1, 1], rightTicks: shareTicks,
    leftX: 569, rightX: 1020, xLabelY: 710, corr: [752, 491.5],
    legend: { y: 726, base: 733, box: [555, 591, 718, 732], rec: 593, g: [688, 723, 726], r: [852, 887, 890] } },
  { spend: germanySpending, share: germanyShare, rec: germanyRecessions, title: [37, 795],
    box: [71.7, 475.7, 835.7, 1024], xRef: [1992, 2016], xPix: [76.7, 463.3], xTicks: years1992,
    left: [-3, 3], leftTicks: germanyTicks, right: [-1, 1], rightTicks: shareTicks,
    leftX: 53, rightX: 494, xLabelY: 1041, rotate: true, corr: [351.7, 852.5],
    spendLabel: 'Spending (Left)',
    legend: { y: 1094, base: 1101, box: [46, 82, 1087, 1101], rec: 84, g: [174, 209, 211], r: [334, 369, 372] } },
  { spend: usSpending, share: usShare, rec: usRecessions, title: [543, 795],
    box: [579.3, 1003.3, 840, 1035], xRef: [1980, 2016], xPix: [580, 986.7], xTicks: years1980,
    left: [-4, 4], leftTicks: usTicks, right: [-1, 1], rightTicks: shareTicks,
    leftX: 561, rightX: 1023, xLabelY: 1067, corr: [709.3, 1013],
    legend: { y: 1091.5, base: 1098, box: [554, 589, 1085, 1098], rec: 592, g: [688, 723, 726], r: [852, 888, 890] } },
  { spend: italySpending, share: italyShare, rec: italyRecessions, title: [37, 1168],
    box: [71.7, 463, 1220, 1411.7], xRef: [1999, 2017], xPix: [73.3, 460.7], xTicks: years1999,
    left: [-8, 8], leftTicks: italyTicks, right: [-1, 1], rightTicks: shareTicks,
    leftX: 54, rightX: 480, xLabelY: 1440, corr: [128.3, 1235],
    legend: { y: 1459, base: 1465, box: [46, 83, 1450, 1465], rec: 84, g: [172, 207, 208], r: [327, 361, 362] } }
];

const svg = d3.select('#chart');
const defs = svg.append('defs');

// cropped caption above the frame (only descenders are visible)
const caption = svg.append('text')
  .attr('y', -1)
  .style('font-family', "'Open Sans', sans-serif")
  .style('font-size', '21px')
  .attr('fill', INK);
caption.append('tspan').attr('x', -13).style('font-weight', 'bold').text('Figure 5.');
caption.append('tspan').text(' Social spending and the female share of total ');
caption.append('tspan').attr('x', 626).text('employment');

// frame
svg.append('path')
  .attr('d', 'M10.5,1490 V14.5 H1050')
  .attr('fill', 'none')
  .attr('stroke', INK)
  .attr('stroke-width', 2);

panels.forEach((p, i) => {
  const [L, R, T, B] = p.box;
  const g = svg.append('g');
  const x = d3.scaleLinear().domain(p.xRef).range(p.xPix);
  const yl = d3.scaleLinear().domain(p.left).range([B, T]);
  const yr = d3.scaleLinear().domain(p.right).range([B, T]);

  const clipId = 'clip' + i;
  defs.append('clipPath').attr('id', clipId)
    .append('rect').attr('x', L).attr('y', T - 3).attr('width', R - L).attr('height', B - T + 6);

  // title
  g.append('text')
    .attr('x', p.title[0]).attr('y', p.title[1])
    .style('font-family', SERIF).style('font-size', '28px').style('font-weight', 'bold')
    .attr('fill', INK)
    .text(countries[i]);

  // gridlines
  g.selectAll('line.grid').data(p.leftTicks).join('line')
    .attr('class', 'grid')
    .attr('x1', L).attr('x2', R)
    .attr('y1', d => yl(d)).attr('y2', d => yl(d))
    .attr('stroke', GRID).attr('stroke-width', 1.3);

  // recession shading
  g.append('g').attr('clip-path', `url(#${clipId})`)
    .selectAll('rect').data(p.rec).join('rect')
    .attr('x', d => x(d[0])).attr('width', d => x(d[1]) - x(d[0]))
    .attr('y', T).attr('height', B - T)
    .attr('fill', RECESSION);

  // left axis labels
  g.selectAll('text.yl').data(p.leftTicks).join('text')
    .attr('class', 'yl')
    .attr('x', p.leftX).attr('y', d => yl(d)).attr('dy', '0.35em')
    .attr('text-anchor', 'end')
    .style('font-family', SERIF).style('font-size', '17px').attr('fill', INK)
    .text(d => d);

  // right axis labels
  g.selectAll('text.yr').data(p.rightTicks).join('text')
    .attr('class', 'yr')
    .attr('x', p.rightX).attr('y', d => yr(d)).attr('dy', '0.35em')
    .attr('text-anchor', 'start')
    .style('font-family', SERIF).style('font-size', '17px').attr('fill', INK)
    .text(d => d);

  // x labels
  const xl = g.selectAll('text.xl').data(p.xTicks).join('text')
    .attr('class', 'xl')
    .style('font-family', SERIF).style('font-size', '17px').attr('fill', INK)
    .text(d => d);
  if (p.rotate) {
    xl.attr('text-anchor', 'end')
      .attr('transform', d => `translate(${x(d) + 6},${p.xLabelY}) rotate(-90)`);
  } else {
    xl.attr('text-anchor', 'middle').attr('x', d => x(d)).attr('y', p.xLabelY);
  }

  // series
  const plot = g.append('g').attr('clip-path', `url(#${clipId})`);
  const lineL = d3.line().x(d => x(d[0])).y(d => yl(d[1]));
  const lineR = d3.line().x(d => x(d[0])).y(d => yr(d[1]));
  plot.append('path').datum(p.spend)
    .attr('d', lineL).attr('fill', 'none')
    .attr('stroke', GREEN).attr('stroke-width', 2.4).attr('stroke-linejoin', 'round');
  plot.append('path').datum(p.share)
    .attr('d', lineR).attr('fill', 'none')
    .attr('stroke', RED).attr('stroke-width', 2.4).attr('stroke-linejoin', 'round');

  // correlation note
  g.append('text')
    .attr('x', p.corr[0]).attr('y', p.corr[1])
    .style('font-family', SERIF).style('font-size', '19px').attr('fill', INK)
    .text(correlations[i]);

  // legend
  const lg = p.legend;
  const leg = g.append('g').style('font-family', SERIF).style('font-size', '17px');
  leg.append('rect')
    .attr('x', lg.box[0]).attr('y', lg.box[2])
    .attr('width', lg.box[1] - lg.box[0]).attr('height', lg.box[3] - lg.box[2])
    .attr('fill', RECESSION);
  leg.append('text').attr('x', lg.rec).attr('y', lg.base).attr('fill', INK).text(legendLabels[0]);
  leg.append('line')
    .attr('x1', lg.g[0]).attr('x2', lg.g[1]).attr('y1', lg.y).attr('y2', lg.y)
    .attr('stroke', GREEN).attr('stroke-width', 3);
  leg.append('text').attr('x', lg.g[2]).attr('y', lg.base).attr('fill', INK)
    .text(p.spendLabel || legendLabels[1]);
  leg.append('line')
    .attr('x1', lg.r[0]).attr('x2', lg.r[1]).attr('y1', lg.y).attr('y2', lg.y)
    .attr('stroke', RED).attr('stroke-width', 3);
  leg.append('text').attr('x', lg.r[2]).attr('y', lg.base).attr('fill', INK).text(legendLabels[2]);
});
</script>
</body>
</html>
